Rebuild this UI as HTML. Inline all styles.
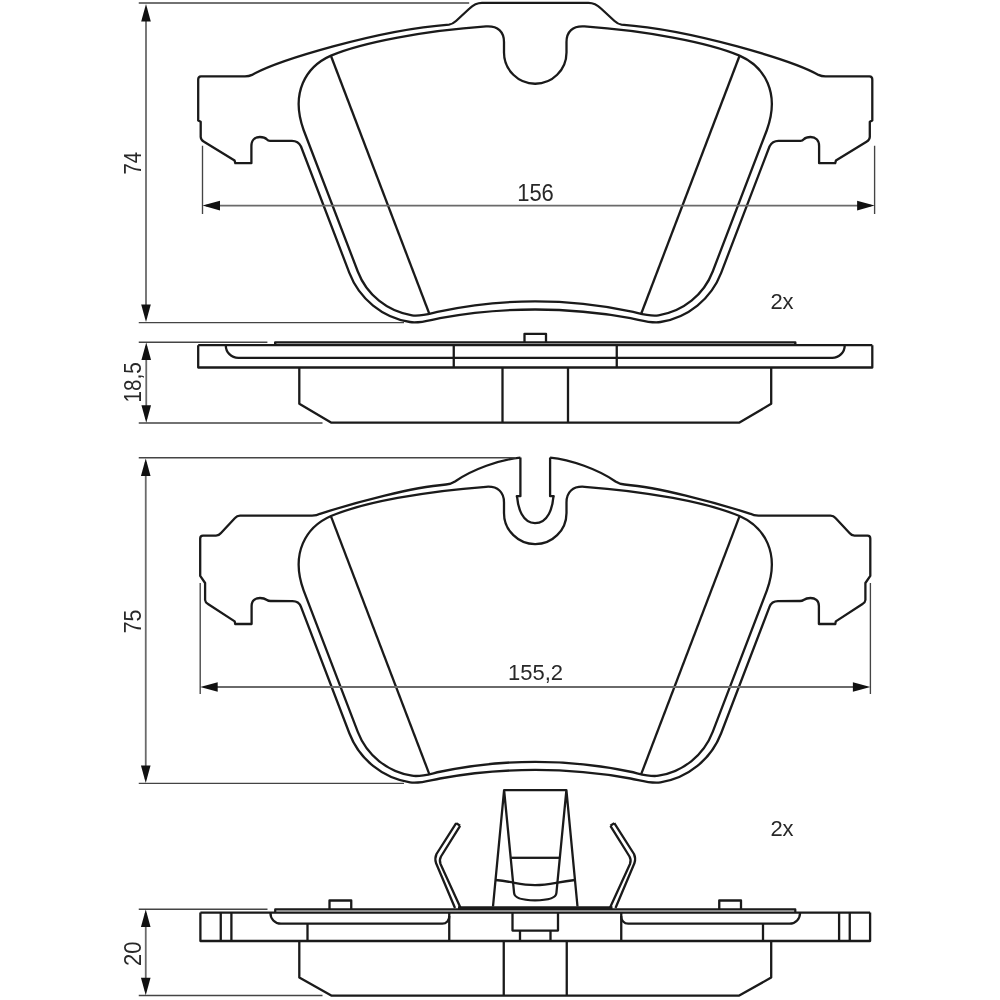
<!DOCTYPE html>
<html><head><meta charset="utf-8"><title>Brake pad drawing</title>
<style>html,body{margin:0;padding:0;background:#fff;width:1000px;height:1000px;overflow:hidden}svg{display:block}</style>
</head><body><svg width="1000" height="1000" viewBox="0 0 1000 1000">
<defs><clipPath id="cl"><rect x="0" y="0" width="535" height="1000"/></clipPath><clipPath id="cr"><rect x="0" y="0" width="535.5" height="1000"/></clipPath></defs><rect width="1000" height="1000" fill="#fff"/><g fill="none" stroke="#1a1a1a" stroke-width="2.3" stroke-linejoin="round" stroke-linecap="butt"><g clip-path="url(#cl)"><path d="M 535.8 2.8 L 482 2.8 C 476 2.8 473 5 469.5 8.5 L 456 21 C 453.5 23.3 452 24.3 449 24.6 C 377.5 29.9 277.2 60.7 252 74.9 Q 249 76.3 245 76.3 L 201 76.3 Q 198.2 76.5 198.2 79.5 L 198.2 120.5 L 200.7 121.8 L 200.7 137 Q 200.9 140.2 204 141.8 L 234.6 160.6 L 235.3 163.2 L 251.4 163.2 L 251.4 146 C 251.4 140 255 137 259.9 137 C 263.5 137 265.5 138 267 139.5 Q 268 140.8 270 140.8 L 292 140.8 C 296.5 140.8 299 142.5 301 146.5  L 301 146.5 L 349.35 272.85 A 78 78 0 0 0 410 321.99 C 420 323.57 430 319.92 440 318.1 A 531.5 531.5 0 0 1 535.8 309.5"/><path d="M 535.8 83.75 A 31.25 31.25 0 0 1 504 52.5 L 504 42 C 504 32 498 25.5 486 26.4 C 425.4 30.6 362.5 42.3 331 55.6 C 305.9 66.6 290.2 92.9 303.6 130 L 357.78 271.47 A 69.58 69.58 0 0 0 412 315.33 C 421.3 316.79 430.7 313.31 440 311.35 A 461 461 0 0 1 535.8 301.4"/><path d="M 331 56 L 429.6 314.5"/></g><g transform="matrix(-1 0 0 1 1070.5 0)"><g clip-path="url(#cr)"><path d="M 535.8 2.8 L 482 2.8 C 476 2.8 473 5 469.5 8.5 L 456 21 C 453.5 23.3 452 24.3 449 24.6 C 377.5 29.9 277.2 60.7 252 74.9 Q 249 76.3 245 76.3 L 201 76.3 Q 198.2 76.5 198.2 79.5 L 198.2 120.5 L 200.7 121.8 L 200.7 137 Q 200.9 140.2 204 141.8 L 234.6 160.6 L 235.3 163.2 L 251.4 163.2 L 251.4 146 C 251.4 140 255 137 259.9 137 C 263.5 137 265.5 138 267 139.5 Q 268 140.8 270 140.8 L 292 140.8 C 296.5 140.8 299 142.5 301 146.5  L 301 146.5 L 349.35 272.85 A 78 78 0 0 0 410 321.99 C 420 323.57 430 319.92 440 318.1 A 531.5 531.5 0 0 1 535.8 309.5"/><path d="M 535.8 83.75 A 31.25 31.25 0 0 1 504 52.5 L 504 42 C 504 32 498 25.5 486 26.4 C 425.4 30.6 362.5 42.3 331 55.6 C 305.9 66.6 290.2 92.9 303.6 130 L 357.78 271.47 A 69.58 69.58 0 0 0 412 315.33 C 421.3 316.79 430.7 313.31 440 311.35 A 461 461 0 0 1 535.8 301.4"/><path d="M 331 56 L 429.6 314.5"/></g></g><g clip-path="url(#cl)"><path d="M 520.4 457.6 L 520.4 496.2 L 516.8 496.2 L 517.2 497.6 C 518 507 522 523.2 535.8 523.2 M 520.4 457.6 C 500 459.5 472 469.5 455 481.5 Q 451 484 446 484.5 C 411.2 487.6 359.3 501.2 320 513.8 Q 317 515.6 312 515.6 L 240 515.6 Q 237 515.6 235 518 L 221 533 Q 219 535.6 216 535.6 L 203 535.6 Q 200.2 535.6 200.2 538.5 L 200.2 575.9 L 205.1 583 L 205.1 600 Q 205.3 602.5 208 604 L 234.7 621.4 L 235.2 624 L 251.6 624 L 251.6 606 C 251.6 600.5 255.5 598 260 598 C 263.5 598 265.5 599 267 600 Q 268.3 601 270.5 601 L 292.5 601.2 C 297 601.2 299.5 602.9 301 606.9 L 301 606.9 L 349.35 733.25 A 78 78 0 0 0 410 782.39 C 420 783.97 430 780.32 440 778.5 A 531.5 531.5 0 0 1 535.8 769.9"/><g transform="translate(0 460.4)"><path d="M 535.8 83.75 A 31.25 31.25 0 0 1 504 52.5 L 504 42 C 504 32 498 25.5 486 26.4 C 425.4 30.6 362.5 42.3 331 55.6 C 305.9 66.6 290.2 92.9 303.6 130 L 357.78 271.47 A 69.58 69.58 0 0 0 412 315.33 C 421.3 316.79 430.7 313.31 440 311.35 A 461 461 0 0 1 535.8 301.4"/><path d="M 331 56 L 429.6 314.5"/></g></g><g transform="matrix(-1 0 0 1 1070.5 0)"><g clip-path="url(#cr)"><path d="M 520.4 457.6 L 520.4 496.2 L 516.8 496.2 L 517.2 497.6 C 518 507 522 523.2 535.8 523.2 M 520.4 457.6 C 500 459.5 472 469.5 455 481.5 Q 451 484 446 484.5 C 411.2 487.6 359.3 501.2 320 513.8 Q 317 515.6 312 515.6 L 240 515.6 Q 237 515.6 235 518 L 221 533 Q 219 535.6 216 535.6 L 203 535.6 Q 200.2 535.6 200.2 538.5 L 200.2 575.9 L 205.1 583 L 205.1 600 Q 205.3 602.5 208 604 L 234.7 621.4 L 235.2 624 L 251.6 624 L 251.6 606 C 251.6 600.5 255.5 598 260 598 C 263.5 598 265.5 599 267 600 Q 268.3 601 270.5 601 L 292.5 601.2 C 297 601.2 299.5 602.9 301 606.9 L 301 606.9 L 349.35 733.25 A 78 78 0 0 0 410 782.39 C 420 783.97 430 780.32 440 778.5 A 531.5 531.5 0 0 1 535.8 769.9"/><g transform="translate(0 460.4)"><path d="M 535.8 83.75 A 31.25 31.25 0 0 1 504 52.5 L 504 42 C 504 32 498 25.5 486 26.4 C 425.4 30.6 362.5 42.3 331 55.6 C 305.9 66.6 290.2 92.9 303.6 130 L 357.78 271.47 A 69.58 69.58 0 0 0 412 315.33 C 421.3 316.79 430.7 313.31 440 311.35 A 461 461 0 0 1 535.8 301.4"/><path d="M 331 56 L 429.6 314.5"/></g></g></g><g clip-path="url(#cl)"><path d="M 198.2 345.2 L 198.2 367.5 L 535.8 367.5 M 198.2 345.2 L 535.8 345.2"/><path d="M 225.8 345.2 A 12.5 12.5 0 0 0 238.3 357.9 L 535.8 357.9"/><path d="M 453.75 345.2 L 453.75 367.5"/><path d="M 299.3 367.5 L 299.3 403.8 L 331 422.6 L 535.8 422.6"/><path d="M 502.5 367.5 L 502.5 422.6"/><path d="M 275.2 345 L 275.2 342.4 L 535.8 342.4" stroke-width="2.4"/><path d="M 524.5 342.4 L 524.5 333.8 L 535.8 333.8"/></g><g transform="matrix(-1 0 0 1 1070.5 0)"><g clip-path="url(#cr)"><path d="M 198.2 345.2 L 198.2 367.5 L 535.8 367.5 M 198.2 345.2 L 535.8 345.2"/><path d="M 225.8 345.2 A 12.5 12.5 0 0 0 238.3 357.9 L 535.8 357.9"/><path d="M 453.75 345.2 L 453.75 367.5"/><path d="M 299.3 367.5 L 299.3 403.8 L 331 422.6 L 535.8 422.6"/><path d="M 502.5 367.5 L 502.5 422.6"/><path d="M 275.2 345 L 275.2 342.4 L 535.8 342.4" stroke-width="2.4"/><path d="M 524.5 342.4 L 524.5 333.8 L 535.8 333.8"/></g></g><g clip-path="url(#cl)"><path d="M 200.4 912.6 L 200.4 941 L 535.8 941 M 200.4 912.6 L 535.8 912.6"/><path d="M 220.75 912.6 L 220.75 941 M 231.4 912.6 L 231.4 941"/><path d="M 270.5 912.6 A 10.5 10.5 0 0 0 281 923.7 L 442 923.7 A 7 7 0 0 0 449.25 916 "/><path d="M 449.25 912.6 L 449.25 941 M 307.5 923.7 L 307.5 941"/><path d="M 512.5 912.6 L 512.5 930.6 L 535.8 930.6 M 520 930.6 L 520 941"/><path d="M 299.3 941 L 299.3 977.5 L 331.25 995.6 L 535.8 995.6 M 503.75 941 L 503.75 995.6"/><path d="M 275.2 912 L 275.2 909.4 L 535.8 909.4" stroke-width="2.2"/><path d="M 329.5 909.4 L 329.5 900.5 L 351.25 900.5 L 351.25 909.4"/><path d="M 535.8 790.1 L 504.1 790.1 L 493 906.5 M 504.1 790.1 L 514.1 893 C 514.5 898 522 900.3 535.8 900.3"/><path d="M 511.2 857.8 L 535.8 857.8"/><path d="M 495.6 880 C 515 882 520 885.1 535.8 885.1"/><path d="M 456.2 823.1 L 436.5 854 Q 434.5 858.5 436 863 L 455 908 M 460.1 825.8 L 441 856.5 Q 439 860 440.5 864 L 460.4 907.5 M 456.2 823.1 L 460.1 825.8"/><path d="M 458 907.8 L 535.8 907.8" stroke-width="3"/></g><g transform="matrix(-1 0 0 1 1070.5 0)"><g clip-path="url(#cr)"><path d="M 200.4 912.6 L 200.4 941 L 535.8 941 M 200.4 912.6 L 535.8 912.6"/><path d="M 220.75 912.6 L 220.75 941 M 231.4 912.6 L 231.4 941"/><path d="M 270.5 912.6 A 10.5 10.5 0 0 0 281 923.7 L 442 923.7 A 7 7 0 0 0 449.25 916 "/><path d="M 449.25 912.6 L 449.25 941 M 307.5 923.7 L 307.5 941"/><path d="M 512.5 912.6 L 512.5 930.6 L 535.8 930.6 M 520 930.6 L 520 941"/><path d="M 299.3 941 L 299.3 977.5 L 331.25 995.6 L 535.8 995.6 M 503.75 941 L 503.75 995.6"/><path d="M 275.2 912 L 275.2 909.4 L 535.8 909.4" stroke-width="2.2"/><path d="M 329.5 909.4 L 329.5 900.5 L 351.25 900.5 L 351.25 909.4"/><path d="M 535.8 790.1 L 504.1 790.1 L 493 906.5 M 504.1 790.1 L 514.1 893 C 514.5 898 522 900.3 535.8 900.3"/><path d="M 511.2 857.8 L 535.8 857.8"/><path d="M 495.6 880 C 515 882 520 885.1 535.8 885.1"/><path d="M 456.2 823.1 L 436.5 854 Q 434.5 858.5 436 863 L 455 908 M 460.1 825.8 L 441 856.5 Q 439 860 440.5 864 L 460.4 907.5 M 456.2 823.1 L 460.1 825.8"/><path d="M 458 907.8 L 535.8 907.8" stroke-width="3"/></g></g></g><path d="M 138.75 3 L 469.2 3 M 138.75 322.6 L 404 322.6" stroke="#444" stroke-width="1.35"/><path d="M 146 8 L 146 318" stroke="#6a6a6a" stroke-width="1.8"/><polygon points="146,4 141.2,21.5 150.8,21.5" fill="#111" stroke="none"/><polygon points="146,322 141.2,304.5 150.8,304.5" fill="#111" stroke="none"/><path d="M 202.5 145.8 L 202.5 214 M 874.6 145.8 L 874.6 214" stroke="#444" stroke-width="1.35"/><path d="M 206 205.6 L 871 205.6" stroke="#6a6a6a" stroke-width="1.8"/><polygon points="202.5,205.6 220.0,200.79999999999998 220.0,210.4" fill="#111" stroke="none"/><polygon points="874.6,205.6 857.1,200.79999999999998 857.1,210.4" fill="#111" stroke="none"/><path d="M 138.75 342.2 L 267.4 342.2 M 138.75 423 L 322.5 423" stroke="#444" stroke-width="1.35"/><path d="M 146.25 346 L 146.25 419" stroke="#6a6a6a" stroke-width="1.8"/><polygon points="146.25,342.5 141.45,360.0 151.05,360.0" fill="#111" stroke="none"/><polygon points="146.25,422.7 141.45,405.2 151.05,405.2" fill="#111" stroke="none"/><path d="M 138.75 457.7 L 516 457.7 M 138.75 783.4 L 404 783.4" stroke="#444" stroke-width="1.35"/><path d="M 145.75 462 L 145.75 779" stroke="#6a6a6a" stroke-width="1.8"/><polygon points="145.75,458.5 140.95,476.0 150.55,476.0" fill="#111" stroke="none"/><polygon points="145.75,783 140.95,765.5 150.55,765.5" fill="#111" stroke="none"/><path d="M 200.2 583 L 200.2 694 M 870.4 583 L 870.4 694" stroke="#444" stroke-width="1.35"/><path d="M 204 687 L 867 687" stroke="#6a6a6a" stroke-width="1.8"/><polygon points="200.2,687 217.7,682.2 217.7,691.8" fill="#111" stroke="none"/><polygon points="870.4,687 852.9,682.2 852.9,691.8" fill="#111" stroke="none"/><path d="M 138.75 909.25 L 267.5 909.25 M 138.75 995.5 L 322.5 995.5" stroke="#444" stroke-width="1.35"/><path d="M 145.75 913 L 145.75 991" stroke="#6a6a6a" stroke-width="1.8"/><polygon points="145.75,909.5 140.95,927.0 150.55,927.0" fill="#111" stroke="none"/><polygon points="145.75,995.2 140.95,977.7 150.55,977.7" fill="#111" stroke="none"/><g opacity="0.99"><text transform="translate(535.5 200.5) scale(1 1.06)" text-anchor="middle" font-family="Liberation Sans, sans-serif" font-size="22" fill="#262626">156</text><text transform="translate(782 308.8) scale(1 0.97)" text-anchor="middle" font-family="Liberation Sans, sans-serif" font-size="22" fill="#262626">2x</text><text transform="translate(535.5 680.2) scale(1 0.99)" text-anchor="middle" font-family="Liberation Sans, sans-serif" font-size="22" fill="#262626">155,2</text><text transform="translate(782 836) scale(1 0.97)" text-anchor="middle" font-family="Liberation Sans, sans-serif" font-size="22" fill="#262626">2x</text><text transform="translate(140.6 163.2) rotate(-90) scale(0.92 1.06)" text-anchor="middle" font-family="Liberation Sans, sans-serif" font-size="22" fill="#262626">74</text><text transform="translate(140.6 382.4) rotate(-90) scale(0.94 1.06)" text-anchor="middle" font-family="Liberation Sans, sans-serif" font-size="22" fill="#262626">18,5</text><text transform="translate(140.6 621.5) rotate(-90) scale(0.97 1.06)" text-anchor="middle" font-family="Liberation Sans, sans-serif" font-size="22" fill="#262626">75</text><text transform="translate(140.6 953.7) rotate(-90) scale(1.0 1.06)" text-anchor="middle" font-family="Liberation Sans, sans-serif" font-size="22" fill="#262626">20</text></g></svg></body></html>
